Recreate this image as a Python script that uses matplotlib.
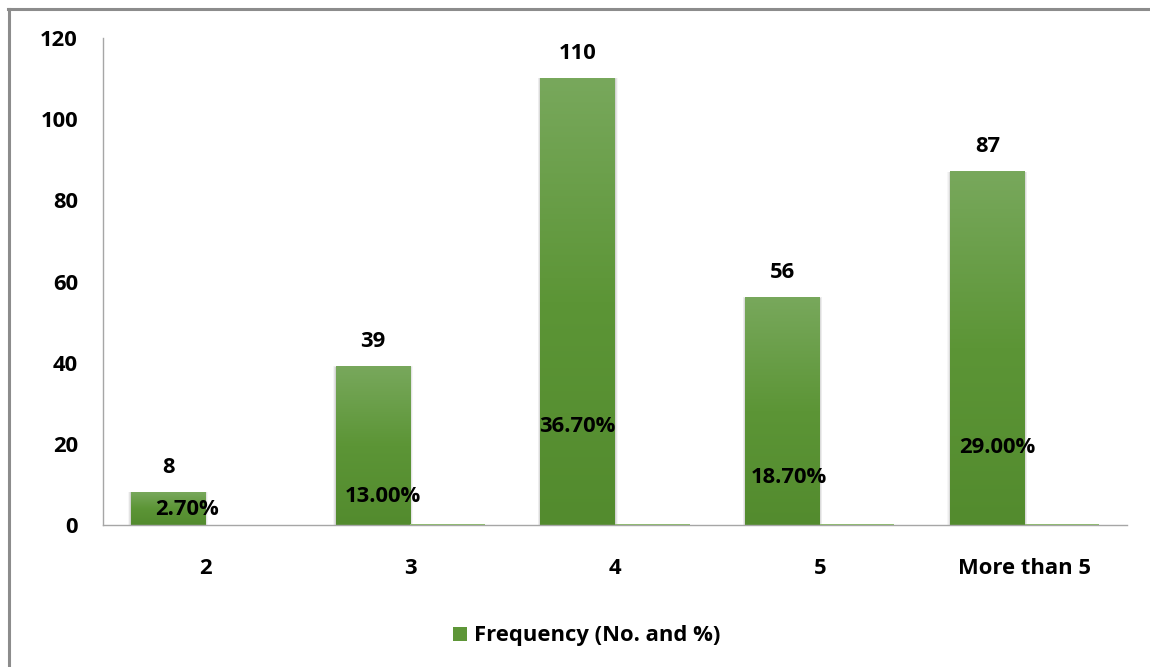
import numpy as np
import matplotlib
matplotlib.use("Agg")
import matplotlib.pyplot as plt
from matplotlib.patches import Rectangle
from matplotlib.lines import Line2D
from matplotlib.colors import LinearSegmentedColormap

# ---- data ----
categories = ["2", "3", "4", "5", "More than 5"]
counts = [8, 39, 110, 56, 87]
shares = [0.027, 0.130, 0.367, 0.187, 0.290]
share_labels = ["2.70%", "13.00%", "36.70%", "18.70%", "29.00%"]
yticks = [0, 20, 40, 60, 80, 100, 120]
legend_label = "Frequency (No. and %)"

# hand-placed positions of the percentage labels (data coords)
share_label_pos = [(-0.090, 3.7), (0.869, 6.9), (1.814, 24.15), (2.850, 11.8), (3.865, 19.0)]

plt.rcParams['font.family'] = ['Open Sans', 'DejaVu Sans']
plt.rcParams['font.weight'] = 'bold'
FS = 15.8

W, H = 1150, 667
fig = plt.figure(figsize=(W / 100, H / 100), dpi=100)
ax = fig.add_axes([103 / W, 1 - 525 / H, (1127 - 103) / W, (525 - 38) / H])

x = np.arange(len(categories))
bw = 0.364
green_grad = LinearSegmentedColormap.from_list("g", ["#538b2e", "#5c9536", "#78a85c"])
grad = np.linspace(0, 1, 256).reshape(-1, 1)

for xi, c in zip(x, counts):
    x0 = xi - bw
    # soft shadow around the bar
    for i in range(1, 6):
        d = 0.0025 * i
        ax.add_patch(Rectangle((x0 - d, 0), bw + 2 * d, c + d * 6,
                               facecolor="#000000", alpha=0.035, lw=0, zorder=1))
    ax.imshow(grad, cmap=green_grad, origin="lower", aspect="auto",
              extent=[x0, x0 + bw, 0, c], zorder=2, interpolation="bilinear")
    ax.annotate(str(c), (xi - bw / 2, c), xytext=(0, 18), textcoords="offset points",
                ha="center", va="center", fontsize=FS, fontweight="bold", color="#000000")

# percentage series (tiny bars next to the counts)
ax.bar(x + bw / 2, shares, width=bw, color="#8cc068", zorder=2, lw=0)
for lbl, (px, py) in zip(share_labels, share_label_pos):
    ax.text(px, py, lbl, ha="center", va="center", fontsize=FS,
            fontweight="bold", color="#000000", zorder=5)

ax.set_xlim(-0.5, len(categories) - 0.5)
ax.set_ylim(0, 120)
ax.set_yticks(yticks)
ax.set_yticklabels([str(t) for t in yticks], fontsize=FS, fontweight="bold")
ax.set_xticks(x)
ax.set_xticklabels(categories, fontsize=FS, fontweight="bold")
ax.tick_params(axis="y", length=0, pad=18)
ax.tick_params(axis="x", length=0, pad=24)
for s in ("top", "right"):
    ax.spines[s].set_visible(False)
for s in ("left", "bottom"):
    ax.spines[s].set_color("#a6a6a6")
    ax.spines[s].set_linewidth(1.0)
ax.set_facecolor("none")

# legend
handle = Rectangle((0, 0), 1, 1, facecolor="#5e9638", edgecolor="none")
fig.legend([handle], [legend_label], loc="center", bbox_to_anchor=(587 / W, 1 - 636 / H),
           frameon=False, handlelength=0.62, handleheight=0.62,
           handletextpad=0.35, prop={"weight": "bold", "size": FS})

# outer chart frame
fig.add_artist(Line2D([9 / W, 9 / W], [0, 1 - 8.5 / H], transform=fig.transFigure,
                      color="#8c8c8c", lw=2.2))
fig.add_artist(Line2D([8 / W, 1], [1 - 8.5 / H, 1 - 8.5 / H], transform=fig.transFigure,
                      color="#8c8c8c", lw=2.2))

fig.savefig("out.png", dpi=100)
